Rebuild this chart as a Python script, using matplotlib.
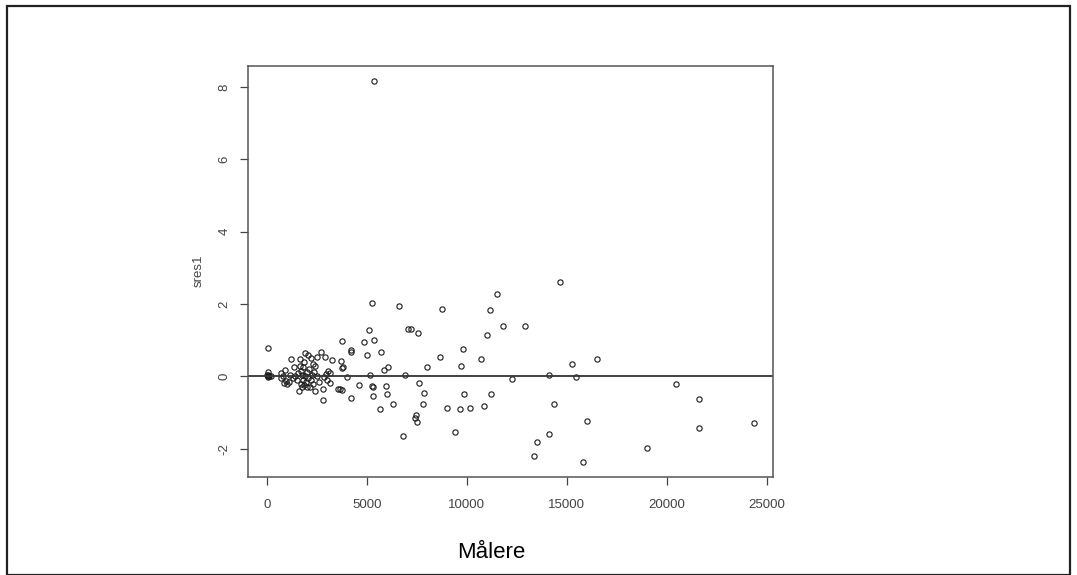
import matplotlib
matplotlib.use("Agg")
import matplotlib.pyplot as plt
from matplotlib.patches import Rectangle

plt.rcParams['font.family'] = ['Liberation Sans', 'DejaVu Sans']

# Målere (x) og standardiserte residualer sres1 (y)
maalere = [
    30, 50, 50, 60, 80, 40, 100, 200,
    733, 900, 800, 700, 950, 1000, 1100, 850, 1150, 1200, 1367, 1300, 1400,
    1650, 1900, 2067, 2233, 2533, 2700, 1650, 2433, 1500, 1550, 1600, 1700,
    1750, 1800, 1850, 1900, 1950, 2000, 2050, 2100, 2150, 2200, 2250, 2300,
    2350, 2433, 2500, 2600, 1700, 1800, 2000, 1850, 1750, 2300,
    2917, 2850, 2817, 2817, 3150, 3050, 3150, 3267, 3550, 3650, 3717, 3750,
    3800, 3783, 3750, 4033, 4200, 4230, 4233, 2950, 3000,
    4617, 4883, 5033, 5117, 5150, 5267, 5283, 5300, 5317, 5350, 5367, 5650,
    5733, 5850, 5983, 6033, 6083, 6317, 6617,
    6833, 6933, 7067, 7200, 7400, 7450, 7500, 7567, 7600, 7833, 7883, 8033,
    8650, 8767, 9017, 9417, 9667, 9733, 9833, 9867, 10150, 10733, 10867,
    11000, 11150, 11200, 11517, 11817, 12250, 12900, 13367, 13533, 14100,
    14100, 14367, 14667, 15283, 15483, 15800, 16000, 16517, 19033, 20450,
    21600, 21633, 24350,
]
sres1 = [
    0.03, 0.79, 0.13, 0.01, -0.01, 0.05, 0.00, 0.02,
    0.10, 0.19, 0.00, -0.05, -0.12, -0.20, -0.15, -0.18, 0.05, 0.47, 0.27, -0.05, 0.02,
    0.47, 0.65, 0.58, 0.50, 0.55, 0.68, 0.30, 0.30, -0.10, 0.10, -0.41, -0.20,
    0.05, -0.10, -0.25, 0.00, -0.15, 0.12, -0.05, 0.20, -0.29, -0.10, 0.05, -0.20,
    0.12, -0.41, 0.00, -0.15, 0.15, 0.25, -0.30, 0.40, -0.30, 0.35,
    0.55, -0.01, -0.34, -0.66, 0.10, 0.15, -0.19, 0.45, -0.34, -0.36, 0.42, 0.22,
    0.25, -0.38, 0.97, -0.02, 0.73, 0.67, -0.59, 0.08, -0.10,
    -0.24, 0.94, 0.58, 1.28, 0.05, 2.04, -0.27, -0.30, -0.53, 1.02, 8.16, -0.91,
    0.68, 0.18, -0.27, -0.50, 0.26, -0.77, 1.94,
    -1.66, 0.03, 1.32, 1.30, -1.15, -1.06, -1.25, 1.19, -0.17, -0.75, -0.45, 0.26,
    0.54, 1.86, -0.86, -1.54, -0.89, 0.30, 0.75, -0.50, -0.86, 0.47, -0.81,
    1.14, 1.83, -0.48, 2.29, 1.39, -0.06, 1.40, -2.21, -1.80, 0.03,
    -1.59, -0.77, 2.60, 0.35, -0.03, -2.36, -1.22, 0.47, -1.99, -0.21,
    -0.62, -1.43, -1.28,
]
x_ticks = [0, 5000, 10000, 15000, 20000, 25000]
y_ticks = [-2, 0, 2, 4, 6, 8]

fig = plt.figure(figsize=(10.77, 5.75), dpi=100)
ax = fig.add_axes([248 / 1077, 1 - 477 / 575, 525 / 1077, 411 / 575])

ax.plot(maalere, sres1, 'o', markersize=3.8, markerfacecolor='none',
        markeredgecolor='#1a1a1a', markeredgewidth=0.8)
ax.axhline(0, color='#333333', linewidth=1.3)
ax.margins(0.04)

ax.set_xticks(x_ticks)
ax.set_yticks(y_ticks)
ax.set_yticklabels([str(v) for v in y_ticks], rotation=90, va='center')
ax.tick_params(direction='out', length=6, width=0.9, colors='#444444',
               labelsize=9.5, labelcolor='#444444')
ax.tick_params(axis='x', pad=9.5)
ax.tick_params(axis='y', pad=6.5)
for s in ax.spines.values():
    s.set_color('#555555')
    s.set_linewidth(1.1)

fig.text(199 / 1077, 1 - 271 / 575, 'sres1', rotation=90, fontsize=9.5,
         color='#444444', ha='center', va='center')
fig.text(491 / 1077, 1 - 553 / 575, 'Målere', fontsize=16, color='black',
         ha='center', va='center')

# ramme rundt hele bildet
fig.patches.append(Rectangle((7 / 1077, 0), 1063 / 1077, 1 - 6 / 575,
                             transform=fig.transFigure, fill=False,
                             edgecolor='#222222', linewidth=1.6))

fig.savefig('out.png', dpi=100)
